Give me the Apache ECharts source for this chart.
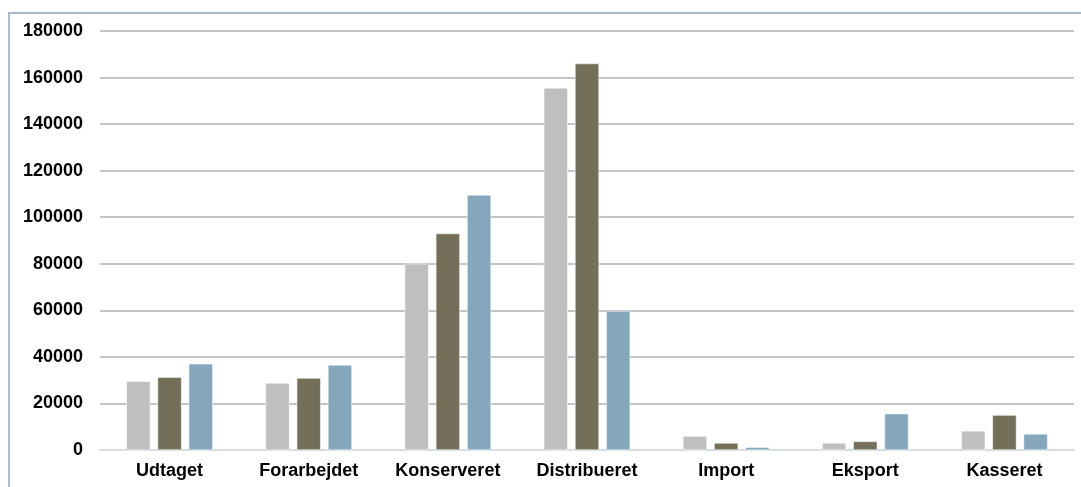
<!DOCTYPE html>
<html lang="da">
<head>
    <meta charset="utf-8"/>
    <title></title>
    <script src="https://cdn.jsdelivr.net/npm/echarts@6/dist/echarts.min.js"></script>
</head>
<style>
    html, body { margin: 0; padding: 0; background: #fff; overflow: hidden; }
    #frame { position: absolute; left: 8px; top: 12px; width: 1090px; height: 490px;
             border: 2px solid #a9bccb; box-sizing: border-box; }
    #echarts { position: absolute; left: 0; top: 0; width: 1081px; height: 487px; }
</style>
<body>
<div id="frame"></div>
<div id="echarts"></div>
<script type="text/javascript">
    // kategorier og værdier
    var categories = ['Udtaget', 'Forarbejdet', 'Konserveret', 'Distribueret', 'Import', 'Eksport', 'Kasseret'];
    var serie1 = [29500, 28800, 80000, 155500, 6000, 3000, 8200];
    var serie2 = [31300, 30900, 93000, 166000, 3000, 3700, 15000];
    var serie3 = [37000, 36500, 109500, 59700, 1200, 15600, 6900];
    var yTicks = { min: 0, max: 180000, interval: 20000 };

    var myChart = echarts.init(document.getElementById('echarts'));
    var txt = { fontFamily: 'Liberation Sans, Arial, sans-serif', fontWeight: 'bold', fontSize: 18, color: '#000' };
    var bar = function (data, color) {
        return {
            type: 'bar',
            data: data,
            barWidth: 24,
            barGap: '30%',
            itemStyle: { color: color, borderColor: '#fff', borderWidth: 0.5 }
        };
    };
    var option = {
        animation: false,
        grid: { left: 100, right: 7, top: 31, bottom: 37, containLabel: false },
        xAxis: {
            type: 'category',
            data: categories,
            axisLine: { lineStyle: { color: '#d5dde5', width: 2 } },
            axisTick: { show: false },
            axisLabel: Object.assign({ margin: 12 }, txt)
        },
        yAxis: {
            type: 'value',
            min: yTicks.min,
            max: yTicks.max,
            interval: yTicks.interval,
            axisLine: { show: false },
            axisTick: { show: false },
            axisLabel: Object.assign({ margin: 17, formatter: function (v) { return String(v); } }, txt),
            splitLine: { lineStyle: { color: '#c4c4c4', width: 2 } }
        },
        series: [
            bar(serie1, '#bfbfbf'),
            bar(serie2, '#736f59'),
            bar(serie3, '#84a7bb')
        ]
    };
    myChart.setOption(option);
</script>
</body>
</html>
